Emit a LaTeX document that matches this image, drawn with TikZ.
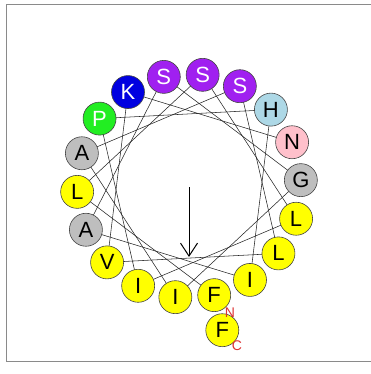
\documentclass[tikz,border=0pt]{standalone}
\usepackage{fontspec}
\setmainfont{Liberation Sans}
\usetikzlibrary{arrows.meta,backgrounds}

\definecolor{yel}{HTML}{FFFF00}
\definecolor{pur}{HTML}{A020F0}
\definecolor{blu}{HTML}{0000E0}
\definecolor{grn}{HTML}{22EE22}
\definecolor{lblu}{HTML}{ADD8E6}
\definecolor{pnk}{HTML}{FFC0CB}
\definecolor{gry}{HTML}{BEBEBE}
\definecolor{rim}{HTML}{444444}
\definecolor{frame}{HTML}{8A8A8A}
\definecolor{termred}{HTML}{DD3333}

\begin{document}
\begin{tikzpicture}[x=1pt,y=-1pt,
  residue/.style={circle,draw=rim,line width=0.6pt,minimum size=33pt,inner sep=0pt,
    font=\fontsize{22}{22}\selectfont},
  chord/.style={draw=black!85,line width=0.55pt},
  termlabel/.style={text=termred,font=\fontsize{14}{14}\selectfont,inner sep=0pt}]
\useasboundingbox (0,0) rectangle (370,374);
% frame
\draw[frame,line width=1pt] (375,5) -- (6,5) -- (6,361) -- (375,361);

% residues, 100 degrees apart around the wheel
\foreach \res/\col/\tc [count=\i from 0] in
  {F/yel/black,L/yel/black,S/pur/white,L/yel/black,I/yel/black,P/grn/white,
   H/lblu/black,I/yel/black,A/gry/black,S/pur/white,G/gry/black,I/yel/black,
   A/gry/black,S/pur/white,L/yel/black,V/yel/black,K/blu/white,N/pnk/black}{
  \pgfmathsetmacro\t{167+100*\i}
  \node[residue,fill=\col,text=\tc] (r\i) at ({189+112*sin(\t)},{186-112*cos(\t)}) {\res};
}
% second turn
\node[residue,fill=yel] (r18) at ({189+148*sin(167)},{186-148*cos(167)}) {F};

% backbone chords beneath the residues
\begin{scope}[on background layer]
  \foreach \i [evaluate=\i as \j using int(\i+1)] in {0,...,16}
    \draw[chord] (r\i.center) -- (r\j.center);
\end{scope}

% terminus labels
\node[termlabel] (nterm) at (230,313) {N};
\node[termlabel] (cterm) at (237,346) {C};

% hydrophobic moment
\coordinate (ctr) at (189,187);
\coordinate (tip) at (189,257);
\draw[line width=1pt,-{Straight Barb[length=13pt,width=17pt,line width=1pt]}] (ctr) -- (tip);
\end{tikzpicture}
\end{document}
